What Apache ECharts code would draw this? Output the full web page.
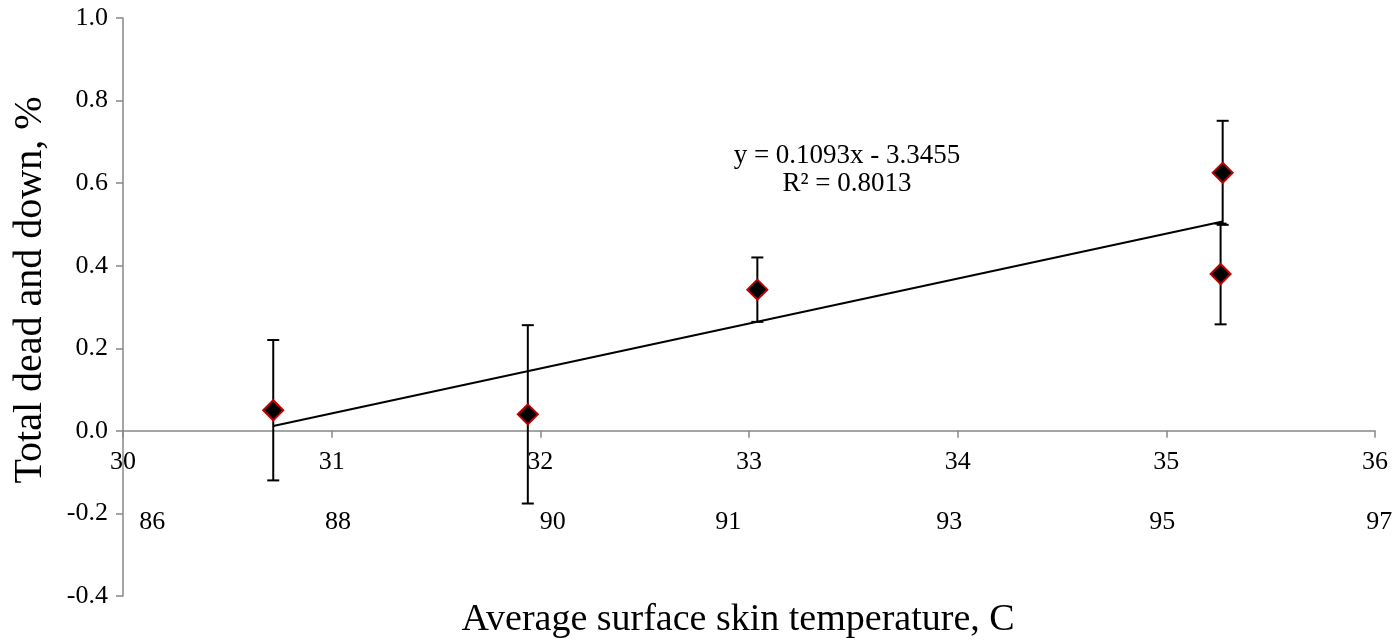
<!DOCTYPE html>
<html>
<head>
<meta charset="utf-8">
<script src="https://cdn.jsdelivr.net/npm/echarts@6/dist/echarts.min.js"></script>
<style>
html,body{margin:0;padding:0;background:#fff;}
#chart{width:1397px;height:643px;}
</style>
</head>
<body>
<div id="chart"></div>
<script>
// Data
const xValues = [30.72, 31.94, 33.04, 35.27, 35.26];
const yValues = [0.050, 0.040, 0.342, 0.625, 0.380];
const yErrors = [0.170, 0.216, 0.078, 0.126, 0.122];
const trendX = [30.72, 35.27];
const trendY = [0.012, 0.507];
const fahrenheitLabels = ['86', '88', '90', '91', '93', '95', '97'];
const fahrenheitPos = [30.14, 31.03, 32.06, 32.90, 33.96, 34.98, 36.02];
const fahrenheitRowY = -0.221;
const equationLines = ['y = 0.1093x - 3.3455', 'R² = 0.8013'];
const xTitle = 'Average surface skin temperature, C';
const yTitle = 'Total dead and down, %';

const FONT = '"Liberation Serif", "Times New Roman", serif';

const X_MIN = 30, X_MAX = 36, Y_MIN = -0.4, Y_MAX = 1.0;
const GRID = { left: 123, right: 22, top: 18, bottom: 47 };
const H = 643;
// move the x axis (line, ticks, labels) up to the y = 0 level
const gridH = H - GRID.top - GRID.bottom;
const zeroOffset = -gridH * (0 - Y_MIN) / (Y_MAX - Y_MIN);

const chart = echarts.init(document.getElementById('chart'));

const points = xValues.map((x, i) => [x, yValues[i]]);
const errData = xValues.map((x, i) => [x, yValues[i] - yErrors[i], yValues[i] + yErrors[i]]);
const trendData = trendX.map((x, i) => [x, trendY[i]]);
const fData = fahrenheitLabels.map((t, i) => ({ name: t, value: [fahrenheitPos[i], fahrenheitRowY] }));

chart.setOption({
  animation: false,
  backgroundColor: '#fff',
  grid: Object.assign({ containLabel: false, outerBoundsMode: 'none' }, GRID),
  xAxis: {
    type: 'value', min: X_MIN, max: X_MAX, interval: 1,
    position: 'bottom', offset: zeroOffset,
    axisLine: { onZero: false, lineStyle: { color: '#888', width: 1.5 } },
    axisTick: { show: true, inside: false, length: 7, lineStyle: { color: '#888', width: 1.5 } },
    splitLine: { show: false },
    axisLabel: { fontFamily: FONT, fontSize: 26, color: '#000', margin: 18, showMinLabel: true, showMaxLabel: true }
  },
  yAxis: {
    type: 'value', min: Y_MIN, max: Y_MAX, interval: 0.2,
    axisLine: { show: true, onZero: false, lineStyle: { color: '#888', width: 1.5 } },
    axisTick: { show: true, inside: false, length: 7, lineStyle: { color: '#888', width: 1.5 } },
    splitLine: { show: false },
    axisLabel: { fontFamily: FONT, fontSize: 26, color: '#000', margin: 15,
      formatter: v => v.toFixed(1) }
  },
  series: [
    {
      type: 'scatter', data: fData, symbolSize: 0, silent: true, clip: false,
      itemStyle: { opacity: 1 },
      label: { show: true, position: 'inside', formatter: p => p.name,
        fontFamily: FONT, fontSize: 26, color: '#000', opacity: 1 },
      z: 1
    },
    {
      type: 'line', data: trendData, showSymbol: false, symbol: 'none',
      lineStyle: { color: '#000', width: 2 }, silent: true, z: 2
    },
    {
      type: 'custom', data: errData, silent: true, z: 3,
      renderItem: function (params, api) {
        const x = api.value(0);
        const lo = api.coord([x, api.value(1)]);
        const hi = api.coord([x, api.value(2)]);
        const h = 6;
        const st = { stroke: '#000', lineWidth: 2 };
        return {
          type: 'group',
          children: [
            { type: 'line', shape: { x1: lo[0], y1: lo[1], x2: hi[0], y2: hi[1] }, style: st },
            { type: 'line', shape: { x1: lo[0] - h, y1: lo[1], x2: lo[0] + h, y2: lo[1] }, style: st },
            { type: 'line', shape: { x1: hi[0] - h, y1: hi[1], x2: hi[0] + h, y2: hi[1] }, style: st }
          ]
        };
      }
    },
    {
      type: 'scatter', data: points, symbol: 'diamond', symbolSize: 20,
      itemStyle: { color: '#000', borderColor: '#C00000', borderWidth: 2, opacity: 1 },
      z: 4
    }
  ],
  graphic: [
    {
      type: 'text', x: 847, y: 170, z: 10,
      style: { text: equationLines.join('\n'), fontFamily: FONT, fontSize: 27, fill: '#000',
        align: 'center', verticalAlign: 'middle', lineHeight: 28 }
    },
    {
      type: 'text', x: 738, y: 620, z: 10,
      style: { text: xTitle, fontFamily: FONT, fontSize: 38, fill: '#000',
        align: 'center', verticalAlign: 'middle' }
    },
    {
      type: 'text', x: 30, y: 290, rotation: Math.PI / 2, z: 10,
      style: { text: yTitle, fontFamily: FONT, fontSize: 40, fill: '#000',
        align: 'center', verticalAlign: 'middle' }
    }
  ]
});
</script>
</body>
</html>
